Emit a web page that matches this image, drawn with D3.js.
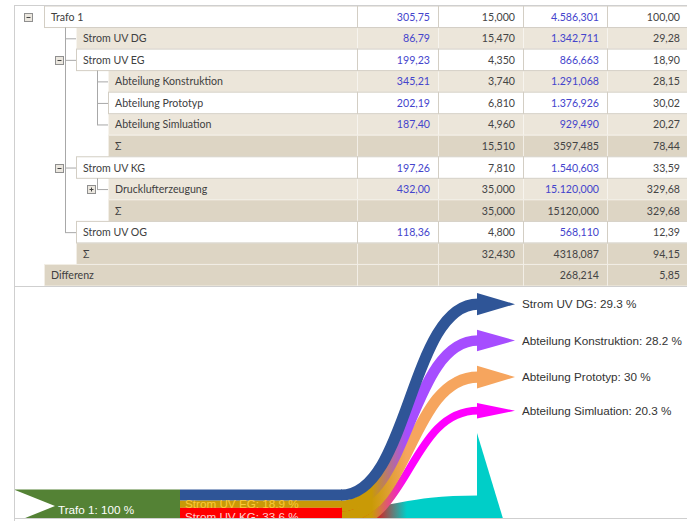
<!DOCTYPE html>
<meta charset="utf-8">
<style>
body { margin: 0; background: #fff; }
svg { display: block; }
.grid text { font: 10.6px Lato, sans-serif; }
.flow text { font: 11.7px "Liberation Sans", Arial, sans-serif; }
</style>
<body>
<svg width="687" height="521"></svg>
<script src="https://cdn.jsdelivr.net/npm/d3@7"></script>
<script>

// ---- table data ----
var rowLabels = ["Trafo 1", "Strom UV DG", "Strom UV EG", "Abteilung Konstruktion", "Abteilung Prototyp",
  "Abteilung Simluation", "Σ", "Strom UV KG", "Drucklufterzeugung", "Σ", "Strom UV OG", "Σ", "Differenz"];
var rowLevels = [0, 1, 1, 2, 2, 2, 2, 1, 2, 2, 1, 1, 0];
var rowKinds = ["w", "b", "w", "b", "w", "b", "s", "w", "b", "s", "w", "s", "s"];
var rowToggle = ["-", "", "-", "", "", "", "", "-", "+", "", "", "", ""];
var power = [305.75, 86.79, 199.23, 345.21, 202.19, 187.40, null, 197.26, 432.00, null, 118.36, null, null];
var hours = [15.000, 15.470, 4.350, 3.740, 6.810, 4.960, 15.510, 7.810, 35.000, 35.000, 4.800, 32.430, null];
var energy = [4586.301, 1342.711, 866.663, 1291.068, 1376.926, 929.490, 3597.485, 1540.603, 15120.000,
  15120.000, 568.110, 4318.087, 268.214];
var share = [100.00, 29.28, 18.90, 28.15, 30.02, 20.27, 78.44, 33.59, 329.68, 329.68, 12.39, 94.15, 5.85];

// ---- flow chart data ----
var mainName = "Trafo 1", mainShare = 100;
var level1 = ["Strom UV DG", "Strom UV EG", "Strom UV KG", "Strom UV OG", "Differenz"];
var level1Share = [29.3, 18.9, 33.6, 12.4, 5.85];
var outNames = ["Strom UV DG", "Abteilung Konstruktion", "Abteilung Prototyp", "Abteilung Simluation", "Drucklufterzeugung"];
var outShare = [29.3, 28.2, 30, 20.3, 329.7];
var outFrom = ["Strom UV DG", "Strom UV EG", "Strom UV EG", "Strom UV EG", "Strom UV KG"];

var colors = {
  "Trafo 1": "#548235", "Strom UV DG": "#2f5597", "Strom UV EG": "#c99a06", "Strom UV KG": "#ff0000",
  "Strom UV OG": "#70ad47", "Differenz": "#a5a5a5", "Abteilung Konstruktion": "#a64dff",
  "Abteilung Prototyp": "#f6a55e", "Abteilung Simluation": "#ff00ff", "Drucklufterzeugung": "#00cec8"
};

var svg = d3.select("svg");
var de = d3.formatLocale({decimal: ",", thousands: ".", grouping: [3], currency: ["", ""]});
var f2 = de.format(".2f"), f3 = de.format(".3f"), f3g = de.format(",.3f");

// ---- table ----
var grid = svg.append("g").attr("class", "grid");
var y = d3.scaleBand().domain(d3.range(rowLabels.length)).range([6, 286]);
var colEdges = [357, 438, 523, 607, 690];
var indent = 32;
var fills = {w: "#ffffff", b: "#ece6da", s: "#ddd5c4"};
var strokes = {w: "#d3cec4", b: "#f7f4ee", s: "#f2eee6"};
var blue = "#4444cc", gray = "#444";

var rows = d3.range(rowLabels.length).sort((a, b) => (rowKinds[a] == "w") - (rowKinds[b] == "w"));

var rowG = grid.selectAll("g.row").data(rows).enter().append("g")
    .attr("class", "row")
    .attr("transform", i => `translate(0,${y(i)})`);

rowG.append("rect")
    .attr("x", i => 44 + indent * rowLevels[i] + 0.5)
    .attr("width", i => colEdges[0] - 44 - indent * rowLevels[i])
    .attr("height", y.bandwidth())
    .attr("fill", i => fills[rowKinds[i]])
    .attr("stroke", i => strokes[rowKinds[i]]);

rowG.selectAll("rect.cell").data(i => d3.range(4).map(c => ({i, c}))).enter().append("rect")
    .attr("class", "cell")
    .attr("x", d => colEdges[d.c] + 0.5)
    .attr("width", d => colEdges[d.c + 1] - colEdges[d.c])
    .attr("height", y.bandwidth())
    .attr("fill", d => fills[rowKinds[d.i]])
    .attr("stroke", d => strokes[rowKinds[d.i]]);

rowG.append("text")
    .attr("x", i => 44 + indent * rowLevels[i] + 7)
    .attr("y", y.bandwidth() / 2 + 4)
    .attr("fill", "#404040")
    .text(i => rowLabels[i]);

function cellText(i, c) {
  var sum = rowKinds[i] == "s";
  if (c == 0) return power[i] == null ? "" : f2(power[i]);
  if (c == 1) return hours[i] == null ? "" : f3(hours[i]);
  if (c == 2) return sum ? f3(energy[i]) : f3g(energy[i]);
  return f2(share[i]);
}

rowG.selectAll("text.num").data(i => d3.range(4).map(c => ({i, c}))).enter().append("text")
    .attr("class", "num")
    .attr("x", d => colEdges[d.c + 1] - (d.c == 3 ? 10 : 8))
    .attr("y", y.bandwidth() / 2 + 4)
    .attr("text-anchor", "end")
    .attr("fill", d => (d.c == 0 || (d.c == 2 && rowKinds[d.i] != "s")) ? blue : gray)
    .text(d => cellText(d.i, d.c));

// tree lines
var tree = grid.append("g").attr("stroke", "#a8a8a8").attr("fill", "none");
rowLabels.forEach((lab, i) => {
  var lv = rowLevels[i];
  if (lv == 0 || rowKinds[i] == "s") return;
  var lx = 65 + indent * (lv - 1), cy = y(i) + y.bandwidth() / 2;
  tree.append("line").attr("x1", lx).attr("x2", 44 + indent * lv).attr("y1", cy + 0.5).attr("y2", cy + 0.5);
});
// vertical lines under each expanded parent
rowLabels.forEach((lab, i) => {
  if (rowToggle[i] != "-") return;
  var lv = rowLevels[i];
  var last = i;
  for (var j = i + 1; j < rowLabels.length && rowLevels[j] > lv; j++) {
    if (rowLevels[j] == lv + 1 && rowKinds[j] != "s") last = j;
  }
  var lx = 65 + indent * lv + 0.5;
  tree.append("line").attr("x1", lx).attr("x2", lx)
      .attr("y1", y(i) + y.bandwidth()).attr("y2", y(last) + y.bandwidth() / 2 + 0.5);
});
// toggle boxes
rowLabels.forEach((lab, i) => {
  if (!rowToggle[i]) return;
  var lv = rowLevels[i];
  var cx = lv == 0 ? 27.5 : 59 + indent * (lv - 1), cy = y(i) + y.bandwidth() / 2;
  var b = grid.append("g").attr("transform", `translate(${Math.round(cx) - 4},${Math.round(cy) - 4})`);
  b.append("rect").attr("x", 0.5).attr("y", 0.5).attr("width", 8).attr("height", 8)
      .attr("fill", "#ebe7df").attr("stroke", "#8f8f8f");
  b.append("line").attr("x1", 2.5).attr("x2", 6.5).attr("y1", 4.5).attr("y2", 4.5).attr("stroke", "#444");
  if (rowToggle[i] == "+")
    b.append("line").attr("x1", 4.5).attr("x2", 4.5).attr("y1", 2.5).attr("y2", 6.5).attr("stroke", "#444");
});

// ---- flow chart ----
var top0 = 287, bottom0 = 518;
var flow = svg.append("g").attr("class", "flow");
flow.append("clipPath").attr("id", "clip").append("rect")
    .attr("x", 15).attr("y", top0).attr("width", 672).attr("height", bottom0 - top0);
var area = flow.append("g").attr("clip-path", "url(#clip)");
var defs = svg.append("defs");

var k = d3.scaleLinear().domain([0, 100]).range([0, 38]);
var xMain = 14, xSplit = 180, xLink = 342, xEnd = 477, headLen = 38, base = 489.5;

// stacked level-1 slots
var slots = {}, acc = base;
level1.forEach((n, i) => { slots[n] = {y0: acc, y1: acc + k(level1Share[i]), used: acc}; acc += k(level1Share[i]); });

// target arrows stacked top-down with a fixed gap between heads
var outs = [], hy = 293;
outNames.forEach((n, i) => {
  var w = k(outShare[i]);
  var o = {name: n, share: outShare[i], w: w, head0: hy, cy: hy + w, from: outFrom[i]};
  var s = slots[o.from];
  o.sy = s.used + w / 2;
  s.used += w;
  hy += 2 * w + 14.5;
  outs.push(o);
});

var link = d3.linkHorizontal();
outs.slice().reverse().forEach((o, j) => {
  var id = "g" + j;
  var g = defs.append("linearGradient").attr("id", id).attr("gradientUnits", "userSpaceOnUse")
      .attr("x1", xLink).attr("x2", xEnd).attr("y1", 0).attr("y2", 0);
  g.append("stop").attr("offset", 0.22).attr("stop-color", colors[o.from]);
  g.append("stop").attr("offset", 0.48).attr("stop-color", colors[o.name]);
  area.append("path")
      .attr("d", link({source: [xLink - 1, o.sy], target: [xEnd + 1, o.cy]}))
      .attr("fill", "none")
      .attr("stroke", o.from == o.name ? colors[o.name] : `url(#${id})`)
      .attr("stroke-width", o.w);
  area.append("path")
      .attr("d", `M${xEnd},${o.head0}L${xEnd + headLen},${o.cy}L${xEnd},${o.head0 + 2 * o.w}Z`)
      .attr("fill", colors[o.name]);
  area.append("text")
      .attr("x", xEnd + headLen + 7)
      .attr("y", o.cy)
      .attr("dy", "0.35em")
      .attr("fill", "#333")
      .text(`${o.name}: ${o.share} %`);
});

// horizontal level-1 bands
area.selectAll("rect.lv1").data(level1).enter().append("rect")
    .attr("x", xSplit).attr("width", xLink - xSplit)
    .attr("y", n => slots[n].y0).attr("height", n => slots[n].y1 - slots[n].y0)
    .attr("fill", n => colors[n]);

// main band with tail notch
var mh = k(mainShare);
area.append("rect").attr("x", xMain).attr("y", base).attr("width", xSplit - xMain).attr("height", mh)
    .attr("fill", colors[mainName]);
area.append("path")
    .attr("d", `M${xMain},${base}L${xMain + 41},${base + 16.5}L${xMain},${base + 33}Z`)
    .attr("fill", "#fff");
area.append("text").attr("x", 58).attr("y", base + 24.5).attr("fill", "#fff")
    .text(`${mainName}: ${mainShare} %`);

var lblColors = {"Strom UV EG": "#fcc93a", "Strom UV KG": "#ffd0d0", "Strom UV OG": "#fff", "Differenz": "#fff"};
area.selectAll("text.lv1").data(level1.filter(n => n != "Strom UV DG")).enter().append("text")
    .attr("class", "lv1")
    .attr("x", xSplit + 5)
    .attr("y", n => slots[n].y1 + 0.5)
    .attr("fill", n => lblColors[n])
    .text(n => `${n}: ${level1Share[level1.indexOf(n)]} %`);

// frame
var frame = svg.append("g").attr("stroke", "#cfcfcf").attr("fill", "none");
frame.append("line").attr("x1", 14).attr("x2", 687).attr("y1", 5.5).attr("y2", 5.5);
frame.append("line").attr("x1", 14.5).attr("x2", 14.5).attr("y1", 5).attr("y2", 521);
frame.append("line").attr("x1", 14).attr("x2", 687).attr("y1", 286.5).attr("y2", 286.5);
frame.append("line").attr("x1", 14).attr("x2", 687).attr("y1", 518.5).attr("y2", 518.5);

</script>
</body>
